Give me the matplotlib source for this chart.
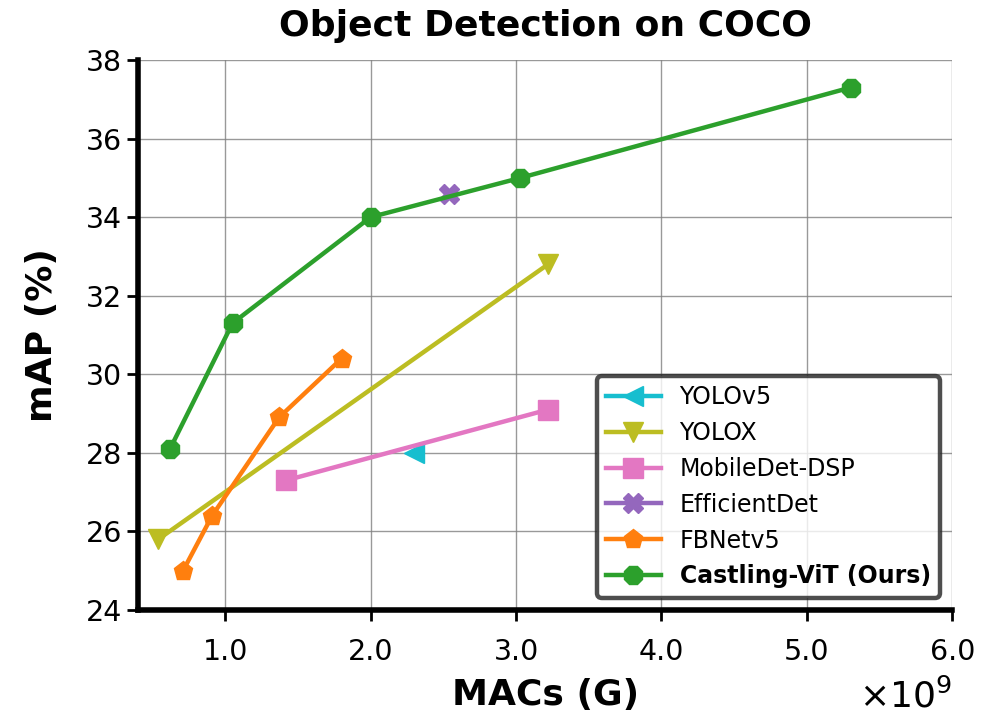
import matplotlib
matplotlib.use("Agg")
import matplotlib.pyplot as plt

# Data (MACs in units, mAP in %)
yolov5_x = [2.30e9]
yolov5_y = [28.0]
yolox_x = [0.54e9, 3.22e9]
yolox_y = [25.8, 32.8]
mobiledet_x = [1.42e9, 3.22e9]
mobiledet_y = [27.3, 29.1]
efficientdet_x = [2.54e9]
efficientdet_y = [34.6]
fbnet_x = [0.71e9, 0.91e9, 1.37e9, 1.80e9]
fbnet_y = [25.0, 26.4, 28.9, 30.4]
castling_x = [0.62e9, 1.05e9, 2.0e9, 3.03e9, 5.30e9]
castling_y = [28.1, 31.3, 34.0, 35.0, 37.3]

xticks = [1.0e9, 2.0e9, 3.0e9, 4.0e9, 5.0e9, 6.0e9]
xticklabels = ["1.0", "2.0", "3.0", "4.0", "5.0", "6.0"]
yticks = [24, 26, 28, 30, 32, 34, 36, 38]

fig = plt.figure(figsize=(9.93, 7.15), dpi=100)
ax = fig.add_axes([0.139, 0.147, 0.820, 0.769])

lw = 3.2
ms = 14
ax.plot(yolov5_x, yolov5_y, marker='<', color='tab:cyan', lw=lw, ms=ms, label='YOLOv5')
ax.plot(yolox_x, yolox_y, marker='v', color='tab:olive', lw=lw, ms=ms, label='YOLOX')
ax.plot(mobiledet_x, mobiledet_y, marker='s', color='tab:pink', lw=lw, ms=ms, label='MobileDet-DSP')
ax.plot(efficientdet_x, efficientdet_y, marker='X', color='tab:purple', lw=lw, ms=ms, label='EfficientDet')
ax.plot(fbnet_x, fbnet_y, marker='p', color='tab:orange', lw=lw, ms=ms, label='FBNetv5')
ax.plot(castling_x, castling_y, marker='8', color='tab:green', lw=lw, ms=ms, label='Castling-ViT (Ours)')

ax.set_xlim(0.4e9, 6.0e9)
ax.set_ylim(24, 38)
ax.set_xticks(xticks)
ax.set_xticklabels(xticklabels)
ax.set_yticks(yticks)
ax.tick_params(axis='both', labelsize=20.5, length=8, width=2)
ax.tick_params(axis='x', pad=12)
ax.grid(True, color='gray', lw=1, alpha=0.8)
ax.set_axisbelow(True)

for s in ['top', 'right']:
    ax.spines[s].set_visible(False)
for s in ['left', 'bottom']:
    ax.spines[s].set_linewidth(4)

ax.set_title('Object Detection on COCO', fontsize=26, fontweight='bold', pad=17)
ax.set_xlabel('MACs (G)', fontsize=26, fontweight='bold', labelpad=9)
ax.set_ylabel('mAP (%)', fontsize=26, fontweight='bold', labelpad=19)

fig.text(0.9587, 0.010, r'$\times10^{9}$', fontsize=26, ha='right', va='baseline')

leg = ax.legend(loc='lower right', fontsize=17, framealpha=0.8, fancybox=True,
                handlelength=2.3, borderaxespad=0,
                bbox_to_anchor=(0.985, 0.022))
leg.get_frame().set_edgecolor('#222222')
leg.get_frame().set_linewidth(3.2)
for t in leg.get_texts():
    if t.get_text().startswith('Castling'):
        t.set_fontweight('bold')

fig.savefig('out.png', dpi=100)
